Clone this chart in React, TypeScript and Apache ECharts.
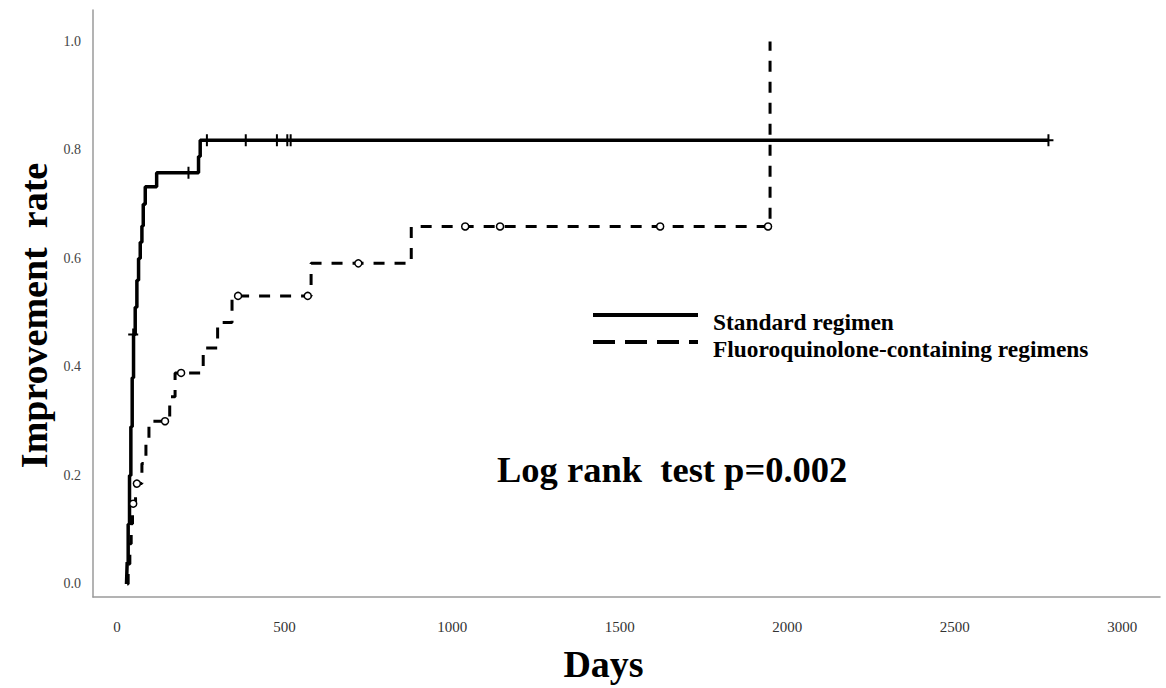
import React, { useEffect, useRef } from "react";
import * as echarts from "echarts";

// Kaplan–Meier step points [day, cumulative improvement rate]
const standardCurve: [number, number][] = [
  [28, 0], [30, 0.04], [33, 0.11], [37, 0.2], [41, 0.29], [45, 0.38], [49, 0.46],
  [54, 0.51], [59, 0.56], [64, 0.6], [69, 0.63], [74, 0.66], [78, 0.7], [84, 0.732],
  [118, 0.758], [243, 0.788], [248, 0.818], [2780, 0.818],
];
const fqCurve: [number, number][] = [
  [30, 0], [33, 0.037], [38, 0.074], [42, 0.111], [46, 0.148], [55, 0.185],
  [74, 0.222], [86, 0.26], [95, 0.3], [157, 0.345], [173, 0.389], [257, 0.435],
  [300, 0.482], [343, 0.531], [579, 0.591], [878, 0.659], [1949, 1.0],
];
// censored observations
const standardCensored: [number, number][] = [
  [48, 0.46], [213, 0.758], [268, 0.818], [384, 0.818], [477, 0.818],
  [508, 0.818], [518, 0.818], [2780, 0.818],
];
const fqCensored: [number, number][] = [
  [48, 0.148], [59, 0.185], [143, 0.3], [191, 0.389], [361, 0.531], [569, 0.531],
  [720, 0.591], [1039, 0.659], [1143, 0.659], [1621, 0.659], [1943, 0.659],
];
const xTicks = [0, 500, 1000, 1500, 2000, 2500, 3000];
const yTicks = [0, 0.2, 0.4, 0.6, 0.8, 1.0];
const seriesNames = ["Standard regimen", "Fluoroquinolone-containing regimens"];
const annotation = "Log rank  test p=0.002";

const SERIF = '"Liberation Serif", "Times New Roman", serif';
const PLUS = "path://M4,0h2v5h4v2h-4v5h-2v-5h-4v-2h4z";

export default function App() {
  const ref = useRef<HTMLDivElement>(null);
  useEffect(() => {
    if (!ref.current) return;
    const chart = echarts.init(ref.current, null, { renderer: "svg" });
    chart.setOption({
      animation: false,
      backgroundColor: "#ffffff",
      grid: { left: 93, right: 6, top: 10, bottom: 83 },
      xAxis: {
        type: "value",
        min: -72,
        max: 3113,
        name: "Days",
        nameLocation: "middle",
        nameGap: 48,
        nameTextStyle: {
          fontFamily: SERIF, fontWeight: "bold", fontSize: 38, color: "#000",
          padding: [0, 46, 0, 0],
        },
        axisLine: { onZero: false, lineStyle: { color: "#9a9a9a", width: 1.5 } },
        axisTick: { show: false },
        splitLine: { show: false },
        axisLabel: {
          customValues: xTicks,
          formatter: (v: number) => String(v),
          fontFamily: SERIF, fontSize: 15, color: "#333", margin: 22,
        },
      },
      yAxis: {
        type: "value",
        min: -0.024,
        max: 1.058,
        name: "Improvement  rate",
        nameLocation: "middle",
        nameRotate: 90,
        nameGap: 38,
        nameTextStyle: {
          fontFamily: SERIF, fontWeight: "bold", fontSize: 38, color: "#000",
          padding: [0, 24, 0, 0],
        },
        axisLine: { onZero: false, lineStyle: { color: "#9a9a9a", width: 1.5 } },
        axisTick: { show: false },
        splitLine: { show: false },
        axisLabel: {
          customValues: yTicks,
          formatter: (v: number) => v.toFixed(1),
          fontFamily: SERIF, fontSize: 14, color: "#444", margin: 12,
        },
      },
      series: [
        {
          name: seriesNames[0],
          type: "line",
          step: "end",
          symbol: "none",
          data: standardCurve,
          lineStyle: { color: "#000", width: 3.5 },
          z: 2,
        },
        {
          name: seriesNames[1],
          type: "line",
          step: "end",
          symbol: "none",
          data: fqCurve,
          lineStyle: { color: "#000", width: 3, type: [11, 10] },
          z: 3,
        },
        {
          name: seriesNames[0] + " (censored)",
          type: "scatter",
          symbol: PLUS,
          symbolSize: [10, 12],
          data: standardCensored,
          itemStyle: { color: "#000", opacity: 1 },
          z: 4,
        },
        {
          name: seriesNames[1] + " (censored)",
          type: "scatter",
          symbol: "circle",
          symbolSize: 7,
          data: fqCensored,
          itemStyle: { color: "#fff", borderColor: "#000", borderWidth: 1.5, opacity: 1 },
          z: 5,
        },
      ],
      graphic: [
        {
          type: "line",
          shape: { x1: 593, y1: 315, x2: 698, y2: 315 },
          style: { stroke: "#000", lineWidth: 4 },
        },
        {
          type: "line",
          shape: { x1: 593, y1: 342, x2: 698, y2: 342 },
          style: { stroke: "#000", lineWidth: 4, lineDash: [22, 10] },
        },
        {
          type: "text",
          x: 713,
          y: 322,
          style: {
            text: seriesNames[0], font: `bold 23.4px ${SERIF}`, fill: "#000",
            align: "left", verticalAlign: "middle",
          },
        },
        {
          type: "text",
          x: 713,
          y: 349,
          style: {
            text: seriesNames[1], font: `bold 23.4px ${SERIF}`, fill: "#000",
            align: "left", verticalAlign: "middle",
          },
        },
        {
          type: "text",
          x: 497,
          y: 469,
          style: {
            text: annotation, font: `bold 36.5px ${SERIF}`, fill: "#000",
            align: "left", verticalAlign: "middle",
          },
        },
      ],
    });
    return () => chart.dispose();
  }, []);
  return (
    <div
      ref={ref}
      style={{ position: "fixed", left: 0, top: 0, width: 1166, height: 688, background: "#fff" }}
    />
  );
}
